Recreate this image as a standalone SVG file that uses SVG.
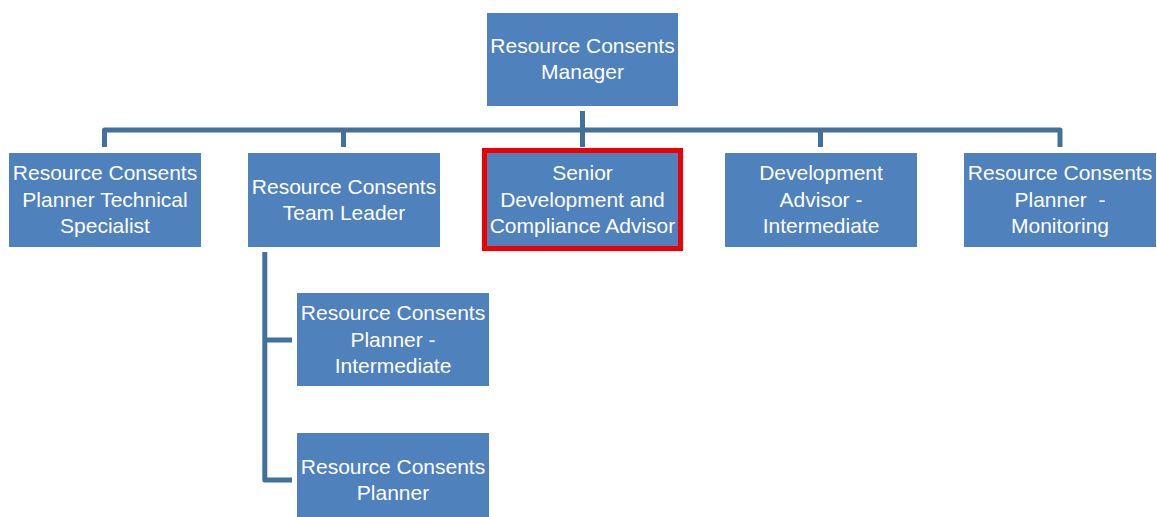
<svg xmlns="http://www.w3.org/2000/svg" width="1157" height="517" viewBox="0 0 1157 517">
  <style>
    .box { fill: #4f81bd; }
    .hl { fill: none; stroke: #ee0000; stroke-width: 5; }
    .lbl { font-family: "Liberation Sans", Arial, sans-serif; font-size: 21px; fill: #ffffff; text-anchor: middle; }
    .wire { fill: none; stroke: #41719c; stroke-width: 5; stroke-linejoin: round; }
  </style>
  <rect width="1157" height="517" fill="#ffffff"/>

  <g id="connectors">
    <path class="wire" d="M104.5 147 V130 H1060 V147"/>
    <path class="wire" d="M582.5 111 V147"/>
    <path class="wire" d="M343.5 130 V147"/>
    <path class="wire" d="M820.5 130 V147"/>
    <path class="wire" d="M264.8 252 V480 H292 M264.8 340 H292"/>
  </g>

  <g id="manager">
    <rect class="box" x="487" y="13" width="191" height="93"/>
    <text class="lbl" x="582.5" y="52.5">Resource Consents</text>
    <text class="lbl" x="582.5" y="79">Manager</text>
  </g>

  <g id="planner-technical-specialist">
    <rect class="box" x="9" y="153" width="192" height="94"/>
    <text class="lbl" x="105" y="180">Resource Consents</text>
    <text class="lbl" x="105" y="206.5">Planner Technical</text>
    <text class="lbl" x="105" y="233">Specialist</text>
  </g>

  <g id="team-leader">
    <rect class="box" x="248" y="153" width="192" height="94"/>
    <text class="lbl" x="344" y="193.5">Resource Consents</text>
    <text class="lbl" x="344" y="220">Team Leader</text>
  </g>

  <g id="senior-advisor">
    <rect class="box" x="487" y="153" width="191" height="94"/>
    <rect class="hl" x="484.5" y="150.5" width="196" height="98"/>
    <text class="lbl" x="582.5" y="180">Senior</text>
    <text class="lbl" x="582.5" y="206.5">Development and</text>
    <text class="lbl" x="582.5" y="233">Compliance Advisor</text>
  </g>

  <g id="development-advisor">
    <rect class="box" x="725" y="153" width="192" height="94"/>
    <text class="lbl" x="821" y="180">Development</text>
    <text class="lbl" x="821" y="206.5">Advisor -</text>
    <text class="lbl" x="821" y="233">Intermediate</text>
  </g>

  <g id="planner-monitoring">
    <rect class="box" x="964" y="153" width="192" height="94"/>
    <text class="lbl" x="1060" y="180">Resource Consents</text>
    <text class="lbl" x="1060" y="206.5" xml:space="preserve">Planner  -</text>
    <text class="lbl" x="1060" y="233">Monitoring</text>
  </g>

  <g id="planner-intermediate">
    <rect class="box" x="297" y="293" width="192" height="93"/>
    <text class="lbl" x="393" y="320">Resource Consents</text>
    <text class="lbl" x="393" y="346.5">Planner -</text>
    <text class="lbl" x="393" y="373">Intermediate</text>
  </g>

  <g id="planner">
    <rect class="box" x="297" y="433" width="192" height="84"/>
    <text class="lbl" x="393" y="473.5">Resource Consents</text>
    <text class="lbl" x="393" y="500">Planner</text>
  </g>
</svg>
